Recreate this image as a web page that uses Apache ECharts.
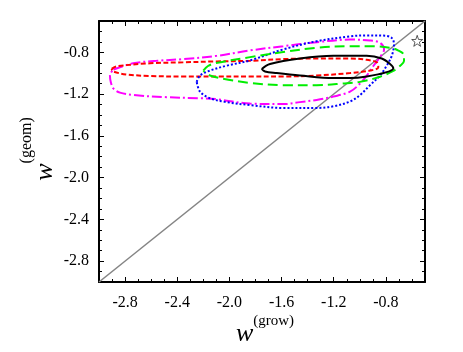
<!DOCTYPE html>
<html>
<head>
<meta charset="utf-8">
<script src="https://cdn.jsdelivr.net/npm/echarts@6/dist/echarts.min.js"></script>
<style>html,body{margin:0;padding:0;background:#fff}#c{width:463px;height:352px}</style>
</head>
<body>
<div id="c"></div>
<script>
// ---- data ----
const xMin = -3.0, xMax = -0.5, yMin = -3.0, yMax = -0.5;
const majorTicks = [-2.8, -2.4, -2.0, -1.6, -1.2, -0.8];
const minorTicks = [-2.9, -2.7, -2.6, -2.5, -2.3, -2.2, -2.1, -1.9, -1.8, -1.7, -1.5, -1.4, -1.3, -1.1, -1.0, -0.9, -0.7, -0.6];
const diagonal = [[-3.0, -3.0], [-0.5, -0.5]];
const starPoint = [[-0.56, -0.69]];

const blackCurve = [
  [-1.752,-0.959],[-1.689,-0.912],[-1.459,-0.859],[-1.203,-0.834],[-0.947,-0.834],[-0.832,-0.859],
  [-0.768,-0.912],[-0.743,-0.952],[-0.794,-0.990],[-0.947,-1.031],[-1.075,-1.046],[-1.203,-1.046],
  [-1.459,-1.022],[-1.637,-0.999],[-1.727,-0.984],[-1.752,-0.959]
];
const redCurve = [
  [-2.903,-0.959],[-2.864,-0.934],[-2.609,-0.905],[-2.354,-0.896],[-2.097,-0.887],[-1.842,-0.881],
  [-1.587,-0.865],[-1.331,-0.859],[-1.075,-0.859],[-0.947,-0.872],[-0.870,-0.896],[-0.858,-0.943],
  [-0.922,-0.975],[-1.075,-0.999],[-1.331,-1.022],[-1.587,-1.031],[-1.842,-1.031],[-2.097,-1.031],
  [-2.354,-1.031],[-2.609,-1.027],[-2.788,-1.012],[-2.890,-0.984],[-2.903,-0.959]
];
const magentaCurve = [
  [-2.890,-0.965],[-2.737,-0.905],[-2.558,-0.881],[-2.354,-0.865],[-2.097,-0.834],[-1.842,-0.782],
  [-1.587,-0.741],[-1.331,-0.703],[-1.075,-0.678],[-0.922,-0.687],[-0.845,-0.709],[-0.814,-0.772],
  [-0.845,-0.846],[-0.896,-0.931],[-0.947,-1.024],[-0.998,-1.099],[-1.075,-1.177],[-1.203,-1.224],
  [-1.331,-1.256],[-1.459,-1.277],[-1.587,-1.296],[-1.842,-1.291],[-2.097,-1.249],[-2.225,-1.240],
  [-2.481,-1.230],[-2.737,-1.209],[-2.839,-1.186],[-2.890,-1.146],[-2.910,-1.083],[-2.916,-1.022],
  [-2.890,-0.965]
];
const blueCurve = [
  [-2.251,-1.083],[-2.225,-1.022],[-2.149,-0.975],[-2.021,-0.928],[-1.842,-0.878],[-1.587,-0.772],
  [-1.331,-0.694],[-1.075,-0.647],[-0.947,-0.638],[-0.820,-0.640],[-0.755,-0.662],[-0.738,-0.725],
  [-0.755,-0.834],[-0.794,-0.928],[-0.845,-1.022],[-0.922,-1.115],[-0.998,-1.209],[-1.075,-1.271],
  [-1.203,-1.317],[-1.331,-1.333],[-1.587,-1.333],[-1.842,-1.305],[-2.021,-1.277],[-2.149,-1.240],
  [-2.225,-1.177],[-2.251,-1.083]
];
const greenCurve = [
  [-2.200,-0.975],[-2.164,-0.931],[-2.110,-0.905],[-1.842,-0.846],[-1.587,-0.797],[-1.331,-0.756],
  [-1.075,-0.741],[-0.896,-0.741],[-0.768,-0.756],[-0.707,-0.781],[-0.661,-0.828],[-0.661,-0.884],
  [-0.692,-0.931],[-0.743,-0.978],[-0.845,-1.034],[-0.998,-1.083],[-1.127,-1.099],[-1.331,-1.115],
  [-1.587,-1.115],[-1.842,-1.093],[-2.008,-1.062],[-2.149,-1.022],[-2.200,-0.975]
];

// ---- chart ----
const FONT = 'Liberation Serif';
const chart = echarts.init(document.getElementById('c'), null, {renderer: 'canvas'});
const fmt = v => Number(v).toFixed(1);

function mkAxis(pos, kind, isMain, extra) {
  const ticks = kind === 'major' ? majorTicks : minorTicks;
  const horiz = pos === 'bottom' || pos === 'top';
  return Object.assign({
    type: 'value', position: pos,
    min: horiz ? xMin : yMin,
    max: horiz ? xMax : yMax,
    splitLine: {show: false},
    axisLine: {show: kind === 'major', onZero: false, lineStyle: {color: '#000', width: 2}},
    axisTick: {show: true, inside: true, length: kind === 'major' ? 5 : 3, customValues: ticks,
      lineStyle: {color: '#000', width: 1}},
    axisLabel: isMain ? {show: true, customValues: majorTicks, formatter: fmt, color: '#000',
      fontFamily: FONT, fontSize: 16, margin: horiz ? 13 : 10} : {show: false}
  }, extra || {});
}

function titleRich(lineH, supSize) {
  return {
    w: {fontFamily: FONT, fontStyle: 'italic', fontSize: 26, color: '#000', lineHeight: 28, verticalAlign: 'bottom'},
    s: {fontFamily: FONT, fontSize: supSize, color: '#000', lineHeight: supSize + 2, verticalAlign: 'top'},
    g: {fontSize: 1, lineHeight: lineH, width: 0}
  };
}
const xName = {
  name: '{g| }{w|w}{s|(grow)}', nameLocation: 'middle', nameGap: 32, nameMoveOverlap: false,
  nameTextStyle: {rich: titleRich(33, 15), padding: [0, 0, 0, 6]}
};
const yName = {
  name: '{g| }{w|w}{s|(geom)}', nameLocation: 'middle', nameGap: 41, nameRotate: 90, nameMoveOverlap: false,
  nameTextStyle: {rich: titleRich(39, 16), padding: [0, 0, 0, 5]}
};

function curve(data, color, type) {
  return {type: 'line', data: data, xAxisIndex: 0, yAxisIndex: 0, showSymbol: false, smooth: 0.35,
    silent: true, animation: false,
    lineStyle: {color: color, width: 2, type: type}};
}

chart.setOption({
  animation: false,
  backgroundColor: '#fff',
  grid: {left: 99, top: 21, right: 38, bottom: 65, containLabel: false},
  xAxis: [
    mkAxis('bottom', 'major', true, xName),
    mkAxis('bottom', 'minor', false),
    mkAxis('top', 'major', false),
    mkAxis('top', 'minor', false)
  ],
  yAxis: [
    mkAxis('left', 'major', true, yName),
    mkAxis('left', 'minor', false),
    mkAxis('right', 'major', false),
    mkAxis('right', 'minor', false)
  ],
  series: [
    {type: 'line', data: diagonal, showSymbol: false, silent: true,
      lineStyle: {color: '#858585', width: 1.6}},
    curve(magentaCurve, '#ff00ff', [10, 3, 2, 3]),
    curve(redCurve, '#ff0000', [5, 2.5]),
    curve(blueCurve, '#0000ff', [2, 2]),
    curve(greenCurve, '#00ee00', [10, 5]),
    curve(blackCurve, '#000000', 'solid'),
    {type: 'scatter', data: starPoint, symbol: 'path://M0,-10 L2.35,-3.24 L9.51,-3.09 L3.8,1.24 L5.88,8.09 L0,4 L-5.88,8.09 L-3.8,1.24 L-9.51,-3.09 L-2.35,-3.24 Z',
      symbolSize: 11, silent: true,
      itemStyle: {color: '#fff', borderColor: '#000', borderWidth: 0.8}}
  ]
});
</script>
</body>
</html>
